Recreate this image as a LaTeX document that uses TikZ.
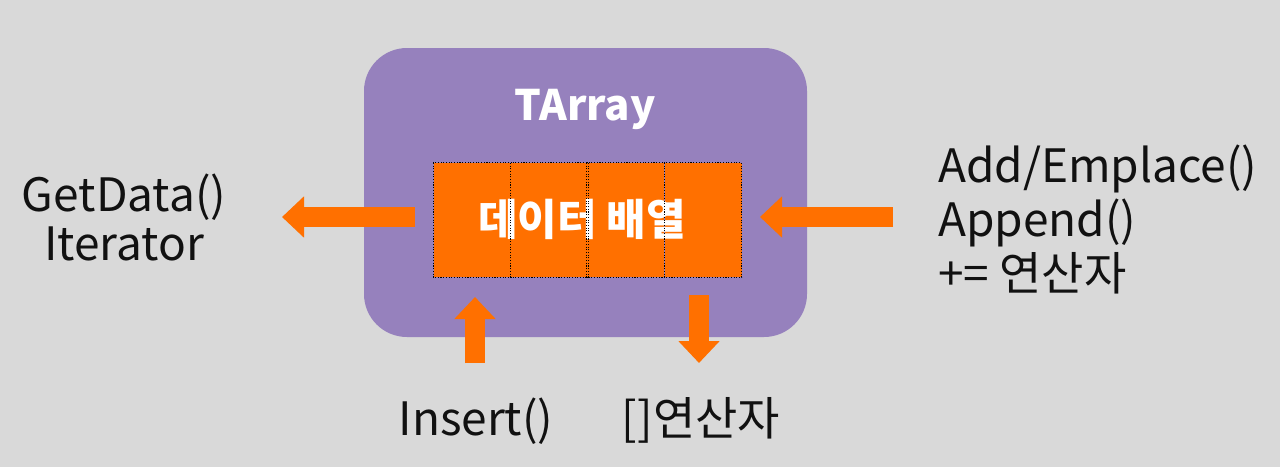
\documentclass[tikz,border=0pt]{standalone}
\usepackage{fontspec}
\setmainfont{Noto Sans CJK KR}
\usetikzlibrary{arrows.meta}
\definecolor{bg}{HTML}{D9D9D9}
\definecolor{purp}{HTML}{9681BD}
\definecolor{orng}{HTML}{FF7000}
\definecolor{ink}{HTML}{111111}
\tikzset{
  fat/.style={draw=orng, line width=20pt, -{Triangle[width=40pt,length=22pt]}, orng},
  cell/.style={fill=orng, minimum width=77pt, minimum height=114pt, inner sep=0pt},
  dots/.style={draw=black, line width=1.1pt, dash pattern=on 1.1pt off 1.6pt},
  lbl/.style={text=ink, inner sep=0pt, font=\fontsize{46}{50}\selectfont}
}
\begin{document}
\begin{tikzpicture}[x=1pt,y=-1pt]
\useasboundingbox (0,0) rectangle (1280,467);
\fill[bg] (0,0) rectangle (1280,467);
\node[fill=purp, rounded corners=43pt, minimum width=443pt, minimum height=289pt, inner sep=0pt] (box) at (585.5,192.5) {};
\node[text=white, font=\fontsize{42}{48}\selectfont\bfseries, anchor=base] (title) at (585,120) {TArray};
\node[cell] (c1) at (472,220) {};
\node[cell] (c2) at (549.5,220) {};
\node[cell] (c3) at (625.5,220) {};
\node[cell] (c4) at (703,220) {};
\node[text=white, font=\fontsize{43}{44}\selectfont\bfseries, inner sep=0pt] (arr) at (582,219) {데이터 배열};
\foreach \c in {c1,c2,c3,c4}
  \draw[dots] (\c.north west) rectangle (\c.south east);
% labels
\node[lbl, align=center, anchor=base, font=\fontsize{46}{49}\selectfont] (get) at (124,260) {GetData()\\Iterator};
\node[lbl, align=left, anchor=base west, font=\fontsize{46}{54}\selectfont] (add) at (938,290) {Add/Emplace()\\Append()\\+= 연산자};
\node[lbl, anchor=base] (ins) at (476,435) {Insert()};
\node[lbl, anchor=base] (op) at (701,435) {[]연산자};
% arrow coordinates
\coordinate (lt) at (415,217);
\coordinate (lh) at (282,217);
\coordinate (rt) at (893,217);
\coordinate (rh) at (760,217);
\coordinate (ut) at (475,363);
\coordinate (uh) at (475,297);
\coordinate (dt) at (699,295);
\coordinate (dh) at (699,363);
\draw[fat] (lt) -- (lh);
\draw[fat] (rt) -- (rh);
\draw[fat] (ut) -- (uh);
\draw[fat] (dt) -- (dh);
\end{tikzpicture}
\end{document}
